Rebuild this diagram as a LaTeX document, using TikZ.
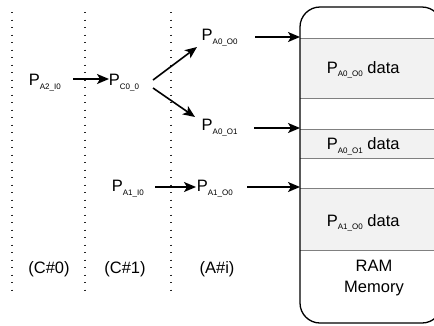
\documentclass[tikz,border=0pt]{standalone}
\usepackage{fontspec}
\setmainfont{Liberation Sans}
\usetikzlibrary{arrows.meta}
\newcommand\Psub[2]{P\raisebox{#1}{\fontsize{8bp}{9bp}\selectfont #2}}
\begin{document}
\begin{tikzpicture}[x=1bp,y=-1bp,
  lbl/.style={inner sep=0pt, anchor=base west, font=\fontsize{16.5bp}{20bp}\selectfont},
  ctr/.style={inner sep=0pt, anchor=base, font=\fontsize{16.5bp}{21bp}\selectfont, align=center},
  arr/.style={line width=1.6bp, -{Stealth[length=12bp,width=10bp,inset=3bp]}},
  sepline/.style={line width=1.5bp, dash pattern=on 1.3bp off 6.2bp, black!85},
  band/.style={fill=black!5, draw=none},
  bandline/.style={draw=black!50, line width=1bp},
  ram/.style={draw=black, line width=1.3bp, rounded corners=20bp}]
\useasboundingbox (0,0) rectangle (434,325);
\begin{scope}
\clip (0,0) rectangle (434,325);
% separators
\draw[sepline] (12,12) -- (12,296);
\draw[sepline] (85,12) -- (85,296);
\draw[sepline] (171,12) -- (171,296);
% RAM bands
\fill[band] (300,38) rectangle (442,98);
\fill[band] (300,129) rectangle (442,158);
\fill[band] (300,188.5) rectangle (442,250);
\foreach \yy in {38,98,129,158,188.5,250}
  \draw[bandline] (300,\yy) -- (442,\yy);
\draw[ram] (300,7) rectangle (442,323);
\end{scope}
% labels
\node[lbl] (a2i0) at (28.7,85) {\Psub{-4.5bp}{A2\_I0}};
\node[lbl] (c00) at (108.7,85) {\Psub{-4.5bp}{C0\_0}};
\node[lbl] (a0o0) at (201.5,40) {\Psub{-4.5bp}{A0\_O0}};
\node[lbl] (a0o1) at (201.5,130) {\Psub{-4.5bp}{A0\_O1}};
\node[lbl] (a1i0) at (111.7,191) {\Psub{-4.5bp}{A1\_I0}};
\node[lbl] (a1o0) at (196.7,191) {\Psub{-4.5bp}{A1\_O0}};
% band texts
\node[lbl] (d0) at (326.7,73.3) {\Psub{-3.5bp}{A0\_O0} data};
\node[lbl] (d1) at (326.7,149.5) {\Psub{-3.5bp}{A0\_O1} data};
\node[lbl] (d2) at (326.7,226) {\Psub{-3.5bp}{A1\_O0} data};
\node[ctr] (ramtxt) at (374,292) {RAM\\Memory};
% column labels
\node[ctr] (c0) at (49,273) {(C\#0)};
\node[ctr] (c1) at (125,273) {(C\#1)};
\node[ctr] (ai) at (217,273) {(A\#i)};
% arrow end points
\coordinate (s1) at (73,79);   \coordinate (e1) at (109,79);
\coordinate (s2) at (153,80);  \coordinate (e2) at (197,47);
\coordinate (s3) at (153,88);  \coordinate (e3) at (195,117);
\coordinate (s4) at (255,37);  \coordinate (e4) at (300,37);
\coordinate (s5) at (254,128); \coordinate (e5) at (300,128);
\coordinate (s6) at (155,187); \coordinate (e6) at (196,187);
\coordinate (s7) at (247,187); \coordinate (e7) at (300,187);
\draw[arr] (s1) -- (e1);
\draw[arr] (s2) -- (e2);
\draw[arr] (s3) -- (e3);
\draw[arr] (s4) -- (e4);
\draw[arr] (s5) -- (e5);
\draw[arr] (s6) -- (e6);
\draw[arr] (s7) -- (e7);
\end{tikzpicture}
\end{document}
